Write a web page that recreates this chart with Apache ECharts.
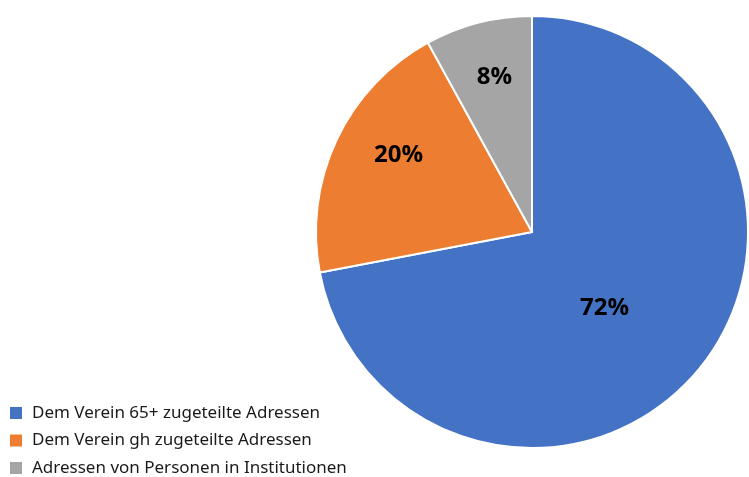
<!DOCTYPE html>
<html><head><meta charset="utf-8">
<script src="https://cdn.jsdelivr.net/npm/echarts@6/dist/echarts.min.js"></script>
<style>html,body{margin:0;padding:0;background:#fff}#c{width:749px;height:477px}</style>
</head><body><div id="c"></div>
<script>
const categories = ['Dem Verein 65+ zugeteilte Adressen', 'Dem Verein gh zugeteilte Adressen', 'Adressen von Personen in Institutionen'];
const values = [72, 20, 8];
const colors = ['#4472C4', '#ED7D31', '#A5A5A5'];
// label nudges relative to the default inside position
const labelShiftX = [-13, -33, -10];
const labelShiftY = [5, -30, -47];

const cx = 532, cy = 232, R = 216;
const chart = echarts.init(document.getElementById('c'), null, {renderer: 'canvas'});
chart.setOption({
  animation: false,
  legend: {
    orient: 'vertical', left: 10, top: 404, height: 73, padding: 0,
    itemWidth: 12, itemHeight: 12, itemGap: 9.5,
    icon: 'rect',
    itemStyle: {borderWidth: 0},
    textStyle: {fontFamily: 'Noto Sans', fontSize: 17, color: '#1a1a1a', lineHeight: 18, padding: [0, 0, 0, 5]},
    data: categories
  },
  series: [{
    type: 'pie',
    center: [cx, cy], radius: R,
    startAngle: 90, clockwise: true,
    avoidLabelOverlap: false,
    itemStyle: {borderColor: '#fff', borderWidth: 2},
    label: {show: true, position: 'inside', formatter: '{c}%', fontFamily: 'Open Sans', fontWeight: 'bold', fontSize: 24, color: '#000'},
    labelLine: {show: false},
    labelLayout: function (p) {
      return {dx: labelShiftX[p.dataIndex], dy: labelShiftY[p.dataIndex]};
    },
    data: categories.map((n, i) => ({name: n, value: values[i], itemStyle: {color: colors[i]}}))
  }]
});
</script></body></html>
